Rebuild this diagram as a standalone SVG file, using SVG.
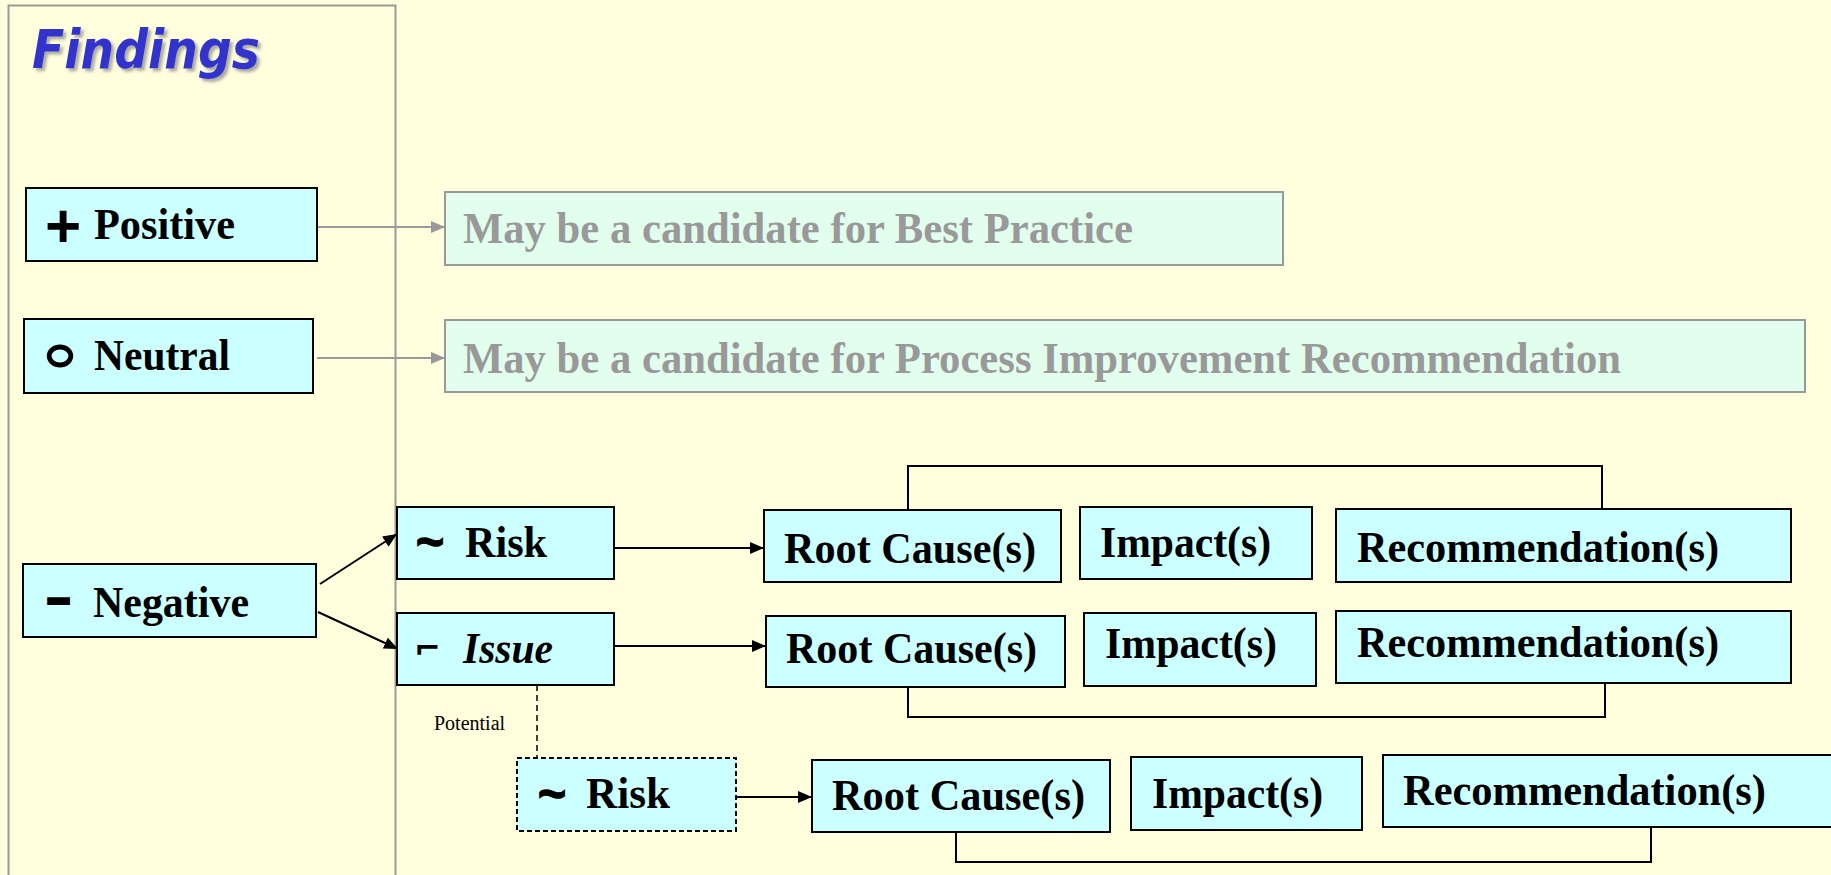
<svg xmlns="http://www.w3.org/2000/svg" width="1831" height="875" viewBox="0 0 1831 875">
<defs>
<style>
.bg{fill:#FFFFDD}
.panel{fill:none;stroke:#999999;stroke-width:2}
.box{fill:#CCFFFF;stroke:#000;stroke-width:2}
.dbox{fill:#CCFFFF;stroke:#000;stroke-width:2;stroke-dasharray:5 3}
.gbox{fill:#E2FFEE;stroke:#999999;stroke-width:2}
.t{font-family:"Liberation Serif","Times New Roman",serif;font-weight:bold;font-size:45px;fill:#000}
.ti{font-style:italic}
.gt{font-family:"Liberation Serif","Times New Roman",serif;font-weight:bold;font-size:45px;fill:#999999}
.sym{font-family:"Liberation Sans",Arial,sans-serif;font-weight:bold;fill:#000}
.small{font-family:"Liberation Serif","Times New Roman",serif;font-size:20px;fill:#000}
.title{font-family:"DejaVu Sans",Verdana,sans-serif;font-weight:bold;font-style:italic;font-size:54px;fill:#3333CC}
.ln{fill:none;stroke:#000;stroke-width:2}
.gln{fill:none;stroke:#999999;stroke-width:2}
.dash{fill:none;stroke:#000;stroke-width:1.5;stroke-dasharray:6 4}
</style>
<marker id="ah" markerUnits="userSpaceOnUse" markerWidth="16" markerHeight="14" refX="14" refY="6" orient="auto">
<path d="M0,0 L14,6 L0,12 Z" fill="#000"/>
</marker>
<marker id="gah" markerUnits="userSpaceOnUse" markerWidth="16" markerHeight="14" refX="14" refY="6" orient="auto">
<path d="M0,0 L14,6 L0,12 Z" fill="#999999"/>
</marker>
<filter id="sh" x="-10%" y="-20%" width="130%" height="160%">
<feDropShadow dx="3" dy="3" stdDeviation="1.5" flood-color="#888888" flood-opacity="0.7"/>
</filter>
</defs>
<rect class="bg" x="0" y="0" width="1831" height="875"/>
<rect class="panel" x="8.5" y="5.5" width="387" height="880"/>
<text class="title" x="32" y="68" textLength="228" lengthAdjust="spacingAndGlyphs" filter="url(#sh)">Findings</text>

<g id="connectors">
<line class="gln" x1="317" y1="227" x2="445" y2="227" marker-end="url(#gah)"/>
<line class="gln" x1="317" y1="358" x2="445" y2="358" marker-end="url(#gah)"/>
<line class="ln" x1="320" y1="584" x2="397" y2="534" marker-end="url(#ah)"/>
<line class="ln" x1="318" y1="612" x2="398" y2="649" marker-end="url(#ah)"/>
<line class="ln" x1="615" y1="548" x2="764" y2="548" marker-end="url(#ah)"/>
<line class="ln" x1="615" y1="646" x2="766" y2="646" marker-end="url(#ah)"/>
<line class="ln" x1="737" y1="797" x2="812" y2="797" marker-end="url(#ah)"/>
<line class="dash" x1="537" y1="685" x2="537" y2="758"/>
<polyline class="ln" points="908,510 908,466 1602,466 1602,509"/>
<polyline class="ln" points="908,687 908,717 1605,717 1605,683"/>
<polyline class="ln" points="956,832 956,862 1651,862 1651,827"/>
</g>

<g id="positive">
<rect class="box" x="26" y="188" width="291" height="73"/>
<text class="sym" x="45" y="247" font-size="62">+</text>
<text class="t" x="94" y="239" textLength="141" lengthAdjust="spacingAndGlyphs">Positive</text>
</g>
<g id="neutral">
<rect class="box" x="24" y="319" width="289" height="74"/>
<ellipse cx="60" cy="356" rx="10.8" ry="9" fill="none" stroke="#000" stroke-width="4.8"/>
<text class="t" x="94" y="370" textLength="136" lengthAdjust="spacingAndGlyphs">Neutral</text>
</g>
<g id="negative">
<rect class="box" x="23" y="564" width="293" height="73"/>
<text class="sym" x="48" y="612" font-size="38" stroke="#000" stroke-width="4">–</text>
<text class="t" x="93" y="617" textLength="156" lengthAdjust="spacingAndGlyphs">Negative</text>
</g>
<g id="best-practice">
<rect class="gbox" x="445" y="192" width="838" height="73"/>
<text class="gt" x="463" y="243" textLength="670" lengthAdjust="spacingAndGlyphs">May be a candidate for Best Practice</text>
</g>
<g id="process-improvement">
<rect class="gbox" x="445" y="320" width="1360" height="72"/>
<text class="gt" x="463" y="373" textLength="1158" lengthAdjust="spacingAndGlyphs">May be a candidate for Process Improvement Recommendation</text>
</g>
<g id="risk">
<rect class="box" x="397" y="507" width="217" height="72"/>
<text class="sym" x="416" y="558" font-size="48" stroke="#000" stroke-width="1.5">~</text>
<text class="t" x="465" y="557" textLength="82" lengthAdjust="spacingAndGlyphs">Risk</text>
</g>
<g id="issue">
<rect class="box" x="397" y="613" width="217" height="72"/>
<text x="414" y="659" font-family="DejaVu Sans, sans-serif" font-weight="bold" font-size="32" fill="#000">⌐</text>
<text class="t ti" x="463" y="663" textLength="90" lengthAdjust="spacingAndGlyphs">Issue</text>
</g>
<text class="small" x="434" y="730">Potential</text>
<g id="potential-risk">
<rect class="dbox" x="517" y="758" width="219" height="73"/>
<text class="sym" x="538" y="810" font-size="48" stroke="#000" stroke-width="1.5">~</text>
<text class="t" x="586" y="808" textLength="84" lengthAdjust="spacingAndGlyphs">Risk</text>
</g>
<g id="root-cause-1">
<rect class="box" x="764" y="510" width="297" height="72"/>
<text class="t" x="784" y="563" textLength="252" lengthAdjust="spacingAndGlyphs">Root Cause(s)</text>
</g>
<g id="impact-1">
<rect class="box" x="1080" y="507" width="232" height="72"/>
<text class="t" x="1100" y="557" textLength="171" lengthAdjust="spacingAndGlyphs">Impact(s)</text>
</g>
<g id="recommendation-1">
<rect class="box" x="1336" y="509" width="455" height="73"/>
<text class="t" x="1357" y="562" textLength="362" lengthAdjust="spacingAndGlyphs">Recommendation(s)</text>
</g>
<g id="root-cause-2">
<rect class="box" x="766" y="616" width="299" height="71"/>
<text class="t" x="786" y="663" textLength="251" lengthAdjust="spacingAndGlyphs">Root Cause(s)</text>
</g>
<g id="impact-2">
<rect class="box" x="1084" y="613" width="232" height="73"/>
<text class="t" x="1105" y="658" textLength="172" lengthAdjust="spacingAndGlyphs">Impact(s)</text>
</g>
<g id="recommendation-2">
<rect class="box" x="1336" y="611" width="455" height="72"/>
<text class="t" x="1357" y="657" textLength="362" lengthAdjust="spacingAndGlyphs">Recommendation(s)</text>
</g>
<g id="root-cause-3">
<rect class="box" x="812" y="760" width="298" height="72"/>
<text class="t" x="832" y="810" textLength="253" lengthAdjust="spacingAndGlyphs">Root Cause(s)</text>
</g>
<g id="impact-3">
<rect class="box" x="1131" y="757" width="231" height="73"/>
<text class="t" x="1152" y="808" textLength="171" lengthAdjust="spacingAndGlyphs">Impact(s)</text>
</g>
<g id="recommendation-3">
<rect class="box" x="1383" y="755" width="460" height="72"/>
<text class="t" x="1403" y="805" textLength="363" lengthAdjust="spacingAndGlyphs">Recommendation(s)</text>
</g>
</svg>
